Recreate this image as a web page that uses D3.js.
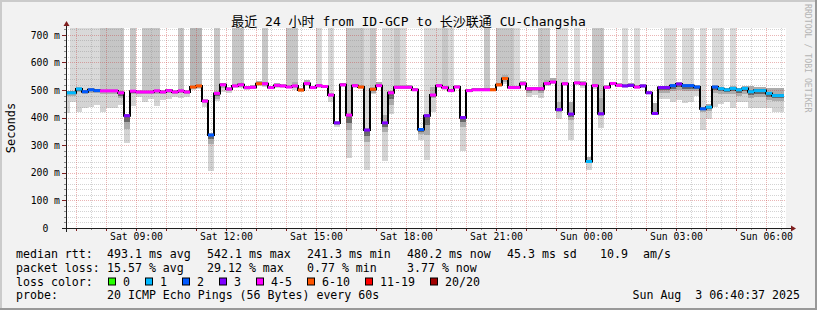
<!DOCTYPE html>
<html>
<head>
<meta charset="utf-8">
<title>SmokePing ID-GCP to CU-Changsha</title>
<style>
  body { margin: 0; background: #fff; }
  svg text { font-family: "DejaVu Sans Mono", "Noto Sans CJK SC", monospace; white-space: pre; }
</style>
</head>
<body>
<div id="chart"></div>
<script src="https://cdn.jsdelivr.net/npm/d3@7/dist/d3.min.js"></script>
<script>

// ---- data: 12 minute bins, first bin starts Sat 06:36 (graph starts 06:40) ----
var binStart = new Date(2025, 7, 2, 6, 36);
var tStart = new Date(2025, 7, 2, 6, 40);
var tEnd = new Date(2025, 7, 3, 6, 40);
var yMax = 725;

// median rtt per bin (ms)
var median = [490,490,504,494,501,498,497,497,497,490,
              407,496,493,493,493,497,493,498,493,497,
              493,511,515,460,337,488,519,504,515,519,
              509,510,523,523,509,517,515,511,515,500,
              524,509,516,513,482,381,519,409,516,511,
              355,503,516,381,490,510,510,510,501,357,
              407,482,516,509,498,511,400,498,501,501,
              501,501,519,542,509,509,523,505,505,505,
              524,529,429,523,413,526,523,241,516,414,
              510,524,517,515,517,511,515,490,415,509,
              509,516,522,516,516,511,432,438,511,505,
              501,506,501,506,494,498,498,488,480,480];

// loss colour index per bin (see lossLabels)
var lossIdx = [1,1,1,2,2,2,4,4,4,4,
               3,4,4,4,4,4,4,4,4,4,
               4,5,5,4,2,4,4,4,4,4,
               4,4,5,4,4,4,4,4,4,5,
               4,4,4,4,4,3,4,4,4,5,
               3,5,4,3,4,4,4,4,4,2,
               3,4,4,4,4,4,3,4,4,4,
               4,5,5,5,4,4,4,4,4,4,
               4,4,3,4,3,4,4,1,4,3,
               4,4,4,3,3,4,3,3,3,3,
               3,2,3,2,2,2,2,1,2,1,
               1,1,1,1,1,1,1,1,1,1];

// smoke: lowest ping, bottom of the dense part, top of the dense part (ms)
var smokeLo = [416,456,422,436,440,446,420,436,436,446,
               307,444,476,456,468,444,464,468,476,470,
               476,500,504,440,208,460,494,488,506,509,
               499,504,516,511,503,509,506,506,499,494,
               516,503,509,507,456,367,511,255,509,505,
               209,486,511,244,414,504,504,504,497,318,
               246,422,507,499,494,507,279,493,496,496,
               496,496,511,523,503,503,516,476,482,473,
               516,521,395,516,319,519,507,209,504,363,
               504,519,511,509,511,505,509,488,410,468,
               468,458,464,452,456,478,356,394,440,448,
               456,436,456,456,436,436,434,436,420,420];
var smokeMid = [478,480,492,484,490,488,486,486,486,470,
                360,484,486,484,486,486,486,488,486,488,
                486,505,508,452,305,468,508,496,510,512,
                503,506,518,515,505,512,510,508,508,497,
                520,506,512,510,476,375,515,355,512,508,
                313,490,514,349,446,507,507,507,499,340,
                338,470,510,505,496,509,367,496,498,498,
                498,498,515,530,506,506,519,490,495,490,
                520,525,420,519,390,522,515,236,510,405,
                507,521,514,512,514,508,512,488,412,490,
                490,495,500,495,495,495,420,425,490,485,
                485,485,480,485,470,475,475,465,460,460];
var smokeHi = [498,496,510,500,507,503,503,503,503,496,
               412,502,499,499,499,503,499,504,499,503,
               499,518,521,466,343,496,526,510,522,526,
               516,517,532,530,516,524,522,520,530,508,
               535,516,523,520,490,388,526,416,523,518,
               362,510,528,409,497,517,517,517,508,364,
               414,510,523,516,505,518,407,505,508,508,
               508,508,526,555,516,516,532,512,512,512,
               536,545,458,530,455,533,533,258,523,470,
               517,531,524,522,524,518,522,497,452,516,
               516,523,529,523,523,518,440,450,518,512,
               508,513,508,513,515,510,510,508,506,506];
// pings above the graph top -> column shade (0 none, 1 light, 2 medium, 3 dark)
var tallShade = [0,1,1,1,1,1,2,2,2,2,
                 0,2,0,2,2,2,0,0,0,2,
                 0,3,3,0,0,2,0,0,2,2,
                 0,0,0,2,0,0,0,2,2,0,
                 0,0,1,0,1,0,0,2,2,2,
                 1,2,0,1,1,2,1,0,0,0,
                 1,1,1,2,1,0,0,0,0,0,
                 2,0,2,2,2,1,0,0,0,2,
                 2,0,1,1,0,1,0,0,2,2,
                 0,0,0,1,0,1,0,0,0,0,
                 1,1,0,1,1,0,1,0,1,1,
                 0,1,0,0,0,0,0,0,0,0];

var lossLabels = ['0', '1', '2', '3', '4-5', '6-10', '11-19', '20/20'];
var lossColors = ['#26ff00', '#00b8ff', '#0059ff', '#7e00ff', '#ff00ff', '#ff5500', '#ff0000', '#a10000'];
var tallColors = ['none', '#d9d9d9', '#c6c6c6', '#b6b6b6'];

var yTicks = [0, 100, 200, 300, 400, 500, 600, 700];

var statRows = [
  [[16, 'median rtt:'], [107, '493.1 ms avg'], [207, '542.1 ms max'], [307, '241.3 ms min'],
   [407, '480.2 ms now'], [507, '45.3 ms sd'], [600, '10.9'], [643, 'am/s']],
  [[16, 'packet loss:'], [107, '15.57 % avg'], [207, '29.12 % max'], [307, '0.77 % min'], [407, '3.77 % now']]
];
var probeText = '20 ICMP Echo Pings (56 Bytes) every 60s';
var stampText = 'Sun Aug  3 06:40:37 2025';
var titleText = '最近 24 小时 from ID-GCP to 长沙联通 CU-Changsha';

// ---- layout ----
var W = 817, H = 310;
var plot = {left: 66, right: 786, top: 28, bottom: 228};

var svg = d3.select('#chart').append('svg')
  .attr('width', W).attr('height', H)
  .attr('xml:space', 'preserve');

// frame
svg.append('rect').attr('width', W).attr('height', H).attr('fill', '#f2f2f2');
svg.append('path').attr('d', `M0,${H}V0H${W}`).attr('fill', 'none').attr('stroke', '#cbcbcb').attr('stroke-width', 4);
svg.append('path').attr('d', `M0,${H}H${W}V0`).attr('fill', 'none').attr('stroke', '#999999').attr('stroke-width', 4);

var x = d3.scaleTime().domain([tStart, tEnd]).range([plot.left, plot.right]);
var y = d3.scaleLinear().domain([0, yMax]).range([plot.bottom, plot.top]);

svg.append('rect')
  .attr('x', plot.left).attr('y', plot.top)
  .attr('width', plot.right - plot.left).attr('height', plot.bottom - plot.top)
  .attr('fill', '#ffffff');

var bins = median.map(function(m, i) {
  var t0 = d3.timeMinute.offset(binStart, 12 * i);
  return {t0: t0, t1: d3.timeMinute.offset(t0, 12), m: m, loss: lossIdx[i],
          lo: smokeLo[i], mid: smokeMid[i], hi: smokeHi[i], tall: tallShade[i]};
});
function bx0(d) { return Math.max(x(d.t0), plot.left); }
function bx1(d) { return Math.min(x(d.t1), plot.right); }

var smoke = svg.append('g').attr('shape-rendering', 'crispEdges');

// columns of pings beyond the top of the graph
smoke.selectAll('rect.tall').data(bins.filter(d => d.tall > 0)).enter()
  .append('rect').attr('class', 'tall')
  .attr('x', bx0).attr('width', d => bx1(d) - bx0(d))
  .attr('y', y(yMax)).attr('height', d => y(d.hi) - y(yMax))
  .attr('fill', d => tallColors[d.tall]);

// light smoke (whole spread)
smoke.selectAll('rect.light').data(bins).enter()
  .append('rect').attr('class', 'light')
  .attr('x', bx0).attr('width', d => bx1(d) - bx0(d))
  .attr('y', d => y(d.hi)).attr('height', d => y(d.lo) - y(d.hi))
  .attr('fill', '#d4d4d4');

// denser smoke
smoke.selectAll('rect.dense').data(bins).enter()
  .append('rect').attr('class', 'dense')
  .attr('x', bx0).attr('width', d => bx1(d) - bx0(d))
  .attr('y', d => y(d.hi)).attr('height', d => y(d.mid) - y(d.hi))
  .attr('fill', '#acacac');

// darkest core right under the median
smoke.selectAll('rect.core').data(bins).enter()
  .append('rect').attr('class', 'core')
  .attr('x', bx0).attr('width', d => bx1(d) - bx0(d))
  .attr('y', d => y(d.m)).attr('height', d => y((d.m + d.mid) / 2) - y(d.m))
  .attr('fill', '#666666');

// ---- grid (drawn over the smoke like rrdtool) ----
var grid = svg.append('g').attr('shape-rendering', 'crispEdges').attr('stroke-dasharray', '1,1');
var minorY = d3.range(20, yMax, 20).filter(v => v % 100 != 0);
var majorY = d3.range(100, yMax, 100);
var minorX = d3.timeMinute.every(30).range(tStart, tEnd).filter(t => t.getMinutes() == 30);
var majorX = d3.timeHour.every(1).range(tStart, tEnd);

grid.selectAll('line.miny').data(minorY).enter().append('line')
  .attr('x1', plot.left).attr('x2', plot.right)
  .attr('y1', d => Math.round(y(d)) + 0.5).attr('y2', d => Math.round(y(d)) + 0.5)
  .attr('stroke', 'rgba(140,140,140,0.38)');
grid.selectAll('line.minx').data(minorX).enter().append('line')
  .attr('y1', plot.top).attr('y2', plot.bottom)
  .attr('x1', d => Math.round(x(d)) + 0.5).attr('x2', d => Math.round(x(d)) + 0.5)
  .attr('stroke', 'rgba(140,140,140,0.38)');
grid.selectAll('line.majy').data(majorY).enter().append('line')
  .attr('x1', plot.left).attr('x2', plot.right)
  .attr('y1', d => Math.round(y(d)) + 0.5).attr('y2', d => Math.round(y(d)) + 0.5)
  .attr('stroke', 'rgba(200,60,60,0.38)');
grid.selectAll('line.majx').data(majorX).enter().append('line')
  .attr('y1', plot.top).attr('y2', plot.bottom)
  .attr('x1', d => Math.round(x(d)) + 0.5).attr('x2', d => Math.round(x(d)) + 0.5)
  .attr('stroke', 'rgba(200,60,60,0.38)');

// ---- median line: black steps, coloured by loss ----
var stepPts = bins.map(d => [bx0(d), y(d.m)]);
stepPts.push([bx1(bins[bins.length - 1]), y(bins[bins.length - 1].m)]);
svg.append('path')
  .attr('d', d3.line().curve(d3.curveStepAfter)(stepPts))
  .attr('fill', 'none').attr('stroke', '#000').attr('stroke-width', 2);

svg.append('g').selectAll('line').data(bins).enter().append('line')
  .attr('x1', bx0).attr('x2', bx1)
  .attr('y1', d => y(d.m)).attr('y2', d => y(d.m))
  .attr('stroke', d => lossColors[d.loss]).attr('stroke-width', 3);

// ---- axes ----
var gx = svg.append('g').attr('transform', `translate(0,${plot.bottom})`)
  .call(d3.axisBottom(x).ticks(d3.timeHour.every(3)).tickFormat(d3.timeFormat('%a %H:%M'))
    .tickSize(0).tickPadding(4.6));
gx.select('.domain').remove();
gx.selectAll('text').attr('font-size', '9.75px').attr('fill', '#000')
  .style('font-family', '"DejaVu Sans Mono", monospace');

var gy = svg.append('g').attr('transform', `translate(${plot.left},0)`)
  .call(d3.axisLeft(y).tickValues(yTicks).tickFormat(d => d == 0 ? '0  ' : d + ' m')
    .tickSize(0).tickPadding(6));
gy.select('.domain').remove();
gy.selectAll('text').attr('font-size', '9.75px').attr('fill', '#000')
  .style('font-family', '"DejaVu Sans Mono", monospace');

// small ticks on the axes
var ticks = svg.append('g').attr('shape-rendering', 'crispEdges');
ticks.selectAll('line.ty').data(d3.range(0, yMax, 20)).enter().append('line')
  .attr('x1', d => d % 100 == 0 ? plot.left - 4 : plot.left - 2).attr('x2', plot.left)
  .attr('y1', d => Math.round(y(d)) + 0.5).attr('y2', d => Math.round(y(d)) + 0.5)
  .attr('stroke', d => d % 100 == 0 ? '#7f1f1f' : '#8c8c8c');
ticks.selectAll('line.tx').data(d3.timeMinute.every(30).range(tStart, tEnd)).enter().append('line')
  .attr('y1', plot.bottom).attr('y2', d => d.getMinutes() == 0 ? plot.bottom + 3 : plot.bottom + 2)
  .attr('x1', d => Math.round(x(d)) + 0.5).attr('x2', d => Math.round(x(d)) + 0.5)
  .attr('stroke', d => d.getMinutes() == 0 ? '#7f1f1f' : '#8c8c8c');

svg.append('line').attr('x1', plot.left - 4).attr('x2', plot.right + 5)
  .attr('y1', plot.bottom + 0.5).attr('y2', plot.bottom + 0.5)
  .attr('stroke', '#1f1f1f').attr('shape-rendering', 'crispEdges');
svg.append('line').attr('x1', plot.left + 0.5).attr('x2', plot.left + 0.5)
  .attr('y1', plot.bottom + 4).attr('y2', plot.top - 2)
  .attr('stroke', '#1f1f1f').attr('shape-rendering', 'crispEdges');
svg.append('path')
  .attr('d', `M${plot.left + 0.5},${plot.top - 7}L${plot.left + 3.5},${plot.top - 2}L${plot.left - 2.5},${plot.top - 2}Z`)
  .attr('fill', '#7f1f1f');
svg.append('path')
  .attr('d', `M${plot.right + 10},${plot.bottom + 0.5}L${plot.right + 5},${plot.bottom - 2.5}L${plot.right + 5},${plot.bottom + 3.5}Z`)
  .attr('fill', '#7f1f1f');

// ---- texts ----
svg.append('text').attr('x', 408.5).attr('y', 26).attr('text-anchor', 'middle')
  .attr('font-size', '13px').text(titleText);

svg.append('text').attr('transform', 'translate(15,128) rotate(-90)')
  .attr('text-anchor', 'middle').attr('font-size', '12px').text('Seconds');

svg.append('text').attr('transform', 'translate(805,4) rotate(90)')
  .attr('font-size', '8.2px').attr('fill', '#b4b4b4').text('RRDTOOL / TOBI OETIKER');

var legend = svg.append('g').attr('font-size', '11.6px');
var rowY = [258, 271.5, 285.5, 299];
statRows.forEach(function(row, r) {
  row.forEach(function(seg) {
    legend.append('text').attr('x', seg[0]).attr('y', rowY[r]).text(seg[1]);
  });
});

legend.append('text').attr('x', 16).attr('y', rowY[2]).text('loss color:');
var cx = 108.5;
lossLabels.forEach(function(lab, i) {
  legend.append('rect').attr('x', cx).attr('y', rowY[2] - 7.5).attr('width', 7).attr('height', 7)
    .attr('fill', lossColors[i]).attr('stroke', '#000').attr('stroke-width', 1);
  legend.append('text').attr('x', cx + 14.5).attr('y', rowY[2]).text(lab);
  cx = cx + 14.5 + lab.length * 7 + 15.5;
});

legend.append('text').attr('x', 16).attr('y', rowY[3]).text('probe:');
legend.append('text').attr('x', 107).attr('y', rowY[3]).text(probeText);
legend.append('text').attr('x', 800).attr('y', rowY[3]).attr('text-anchor', 'end').text(stampText);

</script>
</body>
</html>
